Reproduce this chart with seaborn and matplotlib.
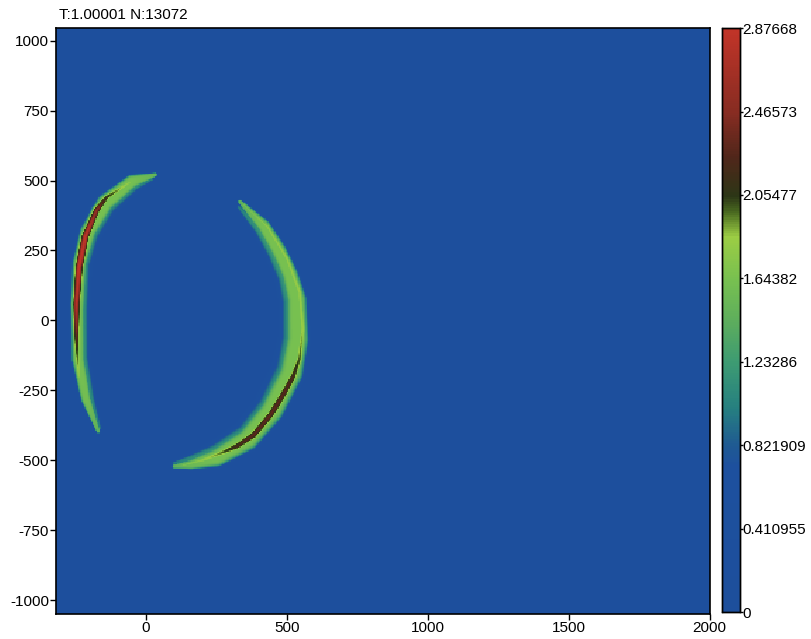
import numpy as np
import pandas as pd
import matplotlib
matplotlib.use("Agg")
import matplotlib.pyplot as plt
from matplotlib.colors import LinearSegmentedColormap
import seaborn as sns

# ---------------- data ----------------
title_text = "T:1.00001 N:13072"
x_range = (-320, 2000)
y_range = (-1050, 1045)
background_value = 0.2

# left crescent: centre line, half-width, value
left_band_x = [32, -50, -145, -205, -236, -243, -241, -213, -170]
left_band_y = [521, 497, 420, 318, 205, 39, -139, -282, -396]
left_band_hw = [8, 26, 33, 31, 27, 25, 24, 19, 8]
left_band_val = [1.5, 1.62, 1.64, 1.64, 1.64, 1.64, 1.62, 1.6, 1.45]

# left crescent inner fringe (teal)
left_halo_x = [20, -45, -134, -191, -222, -228, -226, -199, -165]
left_halo_y = [505, 482, 408, 309, 200, 39, -135, -275, -385]
left_halo_hw = [8, 25, 31, 29, 26, 25, 24, 19, 8]
left_halo_val = [1.0, 1.15, 1.15, 1.15, 1.15, 1.15, 1.15, 1.1, 1.0]

# left crescent ridge (dark / red core)
left_core_x = [-60, -140, -175, -216, -238, -247, -247, -245, -238]
left_core_y = [492, 440, 395, 300, 190, 60, -40, -114, -200]
left_core_hw = [14, 17, 18, 19, 19, 18, 17, 16, 14]
left_core_val = [1.75, 2.1, 2.5, 2.85, 2.88, 2.8, 2.4, 2.05, 1.75]

# right crescent
right_band_x = [333, 417, 470, 510, 534, 537, 514, 445, 360, 250, 160, 100]
right_band_y = [425, 338, 250, 164, 75, -68, -188, -323, -425, -490, -515, -522]
right_band_hw = [8, 25, 29, 31, 37, 41, 45, 45, 42, 35, 19, 8]
right_band_val = [1.45, 1.62, 1.64, 1.64, 1.64, 1.64, 1.64, 1.64, 1.64, 1.62, 1.55, 1.45]

# right crescent inner fringe (teal)
right_halo_x = [329, 408, 457, 493, 515, 518, 498, 435, 355, 250, 163, 100]
right_halo_y = [405, 320, 235, 153, 70, -63, -176, -306, -406, -470, -495, -510]
right_halo_hw = [8, 25, 29, 31, 37, 41, 45, 45, 42, 35, 19, 8]
right_halo_val = [1.0, 1.2, 1.2, 1.2, 1.2, 1.2, 1.2, 1.2, 1.2, 1.2, 1.1, 1.0]

# right crescent ridge along the outer edge (lime -> dark core)
right_core_x = [345, 430, 500, 545, 556, 545, 522, 492, 442, 382, 322, 270, 200, 130]
right_core_y = [415, 335, 220, 100, -30, -135, -200, -255, -338, -410, -450, -473, -500, -518]
right_core_hw = [8, 13, 15, 16, 17, 18, 21, 22, 22, 22, 21, 19, 15, 9]
right_core_val = [1.6, 1.78, 1.8, 1.82, 1.85, 2.0, 2.2, 2.27, 2.3, 2.28, 2.2, 1.98, 1.78, 1.65]

cbar_ticks = [0, 0.410955, 0.821909, 1.23286, 1.64382, 2.05477, 2.46573, 2.87668]
cbar_labels = ["0", "0.410955", "0.821909", "1.23286", "1.64382", "2.05477", "2.46573", "2.87668"]
x_ticks = [0, 500, 1000, 1500, 2000]
y_ticks = [1000, 750, 500, 250, 0, -250, -500, -750, -1000]

# ---------------- build the field ----------------
step = 5.0
x_edges = np.arange(x_range[0], x_range[1] + step / 2, step)
y_edges = np.arange(y_range[1], y_range[0] - step / 2, -step)  # top to bottom
xc = (x_edges[:-1] + x_edges[1:]) / 2
yc = (y_edges[:-1] + y_edges[1:]) / 2
XX, YY = np.meshgrid(xc, yc)
Z = np.full(XX.shape, background_value)


def stamp(Z, xs, ys, hws, vals, power=6, n=30):
    xs, ys, hws, vals = map(np.asarray, (xs, ys, hws, vals))
    for i in range(len(xs) - 1):
        for t in np.linspace(0, 1, n, endpoint=(i == len(xs) - 2)):
            px = xs[i] + t * (xs[i + 1] - xs[i])
            py = ys[i] + t * (ys[i + 1] - ys[i])
            hw = hws[i] + t * (hws[i + 1] - hws[i])
            v = vals[i] + t * (vals[i + 1] - vals[i])
            d = np.sqrt((XX - px) ** 2 + (YY - py) ** 2) / hw
            contrib = background_value + (v - background_value) * np.exp(-(d ** power))
            np.maximum(Z, contrib, out=Z)
    return Z


Z = stamp(Z, left_halo_x, left_halo_y, left_halo_hw, left_halo_val, power=3)
Z = stamp(Z, right_halo_x, right_halo_y, right_halo_hw, right_halo_val, power=3)
Z = stamp(Z, left_band_x, left_band_y, left_band_hw, left_band_val, power=5)
Z = stamp(Z, right_band_x, right_band_y, right_band_hw, right_band_val, power=5)
Z = stamp(Z, left_core_x, left_core_y, left_core_hw, left_core_val, power=2)
Z = stamp(Z, right_core_x, right_core_y, right_core_hw, right_core_val, power=2)

df = pd.DataFrame(Z, index=np.round(yc, 1), columns=np.round(xc, 1))

# ---------------- colour map ----------------
stops = [(0.0, '#1d4f9c'), (0.25, '#1d509e'), (0.285, '#1f5a92'),
         (0.35, '#268080'), (0.43, '#3e9c72'), (0.50, '#5eae5c'),
         (0.57, '#78c050'), (0.643, '#9ccd44'), (0.685, '#4a6a20'),
         (0.713, '#2c3616'), (0.78, '#50261a'), (0.855, '#862c22'),
         (1.0, '#c23428')]
cmap = LinearSegmentedColormap.from_list("field", stops)

# ---------------- plot ----------------
sns.set_theme(style="white")
plt.rcParams['font.family'] = ['Liberation Sans Narrow', 'Liberation Sans', 'DejaVu Sans']

fig = plt.figure(figsize=(8.11, 6.39), dpi=100)
ax = fig.add_axes([0.069, 0.039, 0.806, 0.917])
cax = fig.add_axes([0.890, 0.042, 0.022, 0.914])

sns.heatmap(df, ax=ax, cmap=cmap, vmin=0, vmax=cbar_ticks[-1], cbar_ax=cax,
            xticklabels=False, yticklabels=False, rasterized=True)

ncols = Z.shape[1]
nrows = Z.shape[0]
ax.set_xlim(0, ncols)
ax.set_ylim(nrows, 0)
ax.set_xticks([(v - x_range[0]) / step for v in x_ticks])
ax.set_xticklabels([str(v) for v in x_ticks])
ax.set_yticks([(y_range[1] - v) / step for v in y_ticks])
ax.set_yticklabels([str(v) for v in y_ticks], rotation=0)
ax.set_xlabel("")
ax.set_ylabel("")
ax.tick_params(axis='both', direction='out', length=4, width=1, colors='black',
               labelsize=11, pad=1, bottom=True, left=True)
for s in ax.spines.values():
    s.set_visible(True)
    s.set_color('black')
    s.set_linewidth(1.2)

cax.set_yticks(cbar_ticks)
cax.set_yticklabels(cbar_labels)
cax.tick_params(axis='y', direction='out', length=2, width=1, colors='black',
                labelsize=11, pad=0, right=True)
for s in cax.spines.values():
    s.set_visible(True)
    s.set_color('black')
    s.set_linewidth(1.0)

fig.text(0.073, 0.965, title_text, fontsize=11, ha='left', va='bottom', color='black')

fig.savefig("out.png", dpi=100, facecolor='white')
